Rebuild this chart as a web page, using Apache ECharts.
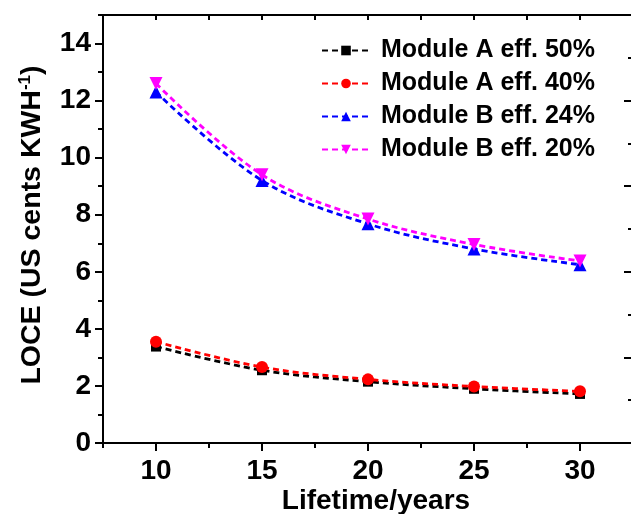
<!DOCTYPE html>
<html>
<head>
<meta charset="utf-8">
<script src="https://cdn.jsdelivr.net/npm/echarts@6/dist/echarts.min.js"></script>
<style>html,body{margin:0;padding:0;background:#fff;}#c{width:631px;height:514px;}</style>
</head>
<body>
<div id="c"></div>
<script>
var years = [10, 15, 20, 25, 30];
var moduleA50 = [3.38, 2.55, 2.15, 1.90, 1.72];
var moduleA40 = [3.55, 2.66, 2.23, 1.98, 1.81];
var moduleB24 = [12.30, 9.20, 7.68, 6.80, 6.25];
var moduleB20 = [12.60, 9.40, 7.85, 6.96, 6.38];
var seriesNames = ['Module A eff. 50%', 'Module A eff. 40%', 'Module B eff. 24%', 'Module B eff. 20%'];
var xTickLabels = [10, 15, 20, 25, 30];
var xMinorTicks = [7.5, 12.5, 17.5, 22.5, 27.5];
var yTickLabels = [0, 2, 4, 6, 8, 10, 12, 14];
var yMinorTicks = [1, 3, 5, 7, 9, 11, 13, 15];

var FONT = 'Arial, "Liberation Sans", sans-serif';
function pairs(v){ return years.map(function(x,i){ return [x, v[i]]; }); }

var chart = echarts.init(document.getElementById('c'), null, {renderer:'canvas'});
var axisLineStyle = {color:'#000', width:2};
function mkSeries(name, data, color, symbol, size, rotate){
  return {
    name: name, type: 'line', data: pairs(data), smooth: 0.35,
    symbol: symbol, symbolSize: size, symbolRotate: rotate || 0,
    itemStyle: {color: color},
    lineStyle: {color: color, width: 2.8, type: [6, 4]},
    xAxisIndex: 0, yAxisIndex: 0, z: 5
  };
}
chart.setOption({
  animation: false,
  backgroundColor: '#fff',
  grid: {left: 103, right: -2, top: 15, bottom: 71, containLabel: false, outerBoundsMode: 'none'},
  legend: {
    orient: 'vertical', left: 316, top: 33, itemGap: 8,
    itemWidth: 48, itemHeight: 12,
    data: seriesNames,
    textStyle: {fontFamily: FONT, fontWeight: 'bold', fontSize: 25, color: '#000', padding: [0,0,0,6]}
  },
  xAxis: [
    {type:'value', position:'bottom', min:7.5, max:32.5, interval:2.5,
     axisLine:{show:true, onZero:false, lineStyle:axisLineStyle},
     axisTick:{show:true, inside:false, length:8, lineStyle:{width:2, color:'#000'}, customValues: xTickLabels},
     axisLabel:{show:true, customValues: xTickLabels, margin:14, fontFamily:FONT, fontWeight:'bold', fontSize:28, color:'#000'},
     splitLine:{show:false},
     name:'Lifetime/years', nameLocation:'middle', nameGap:44, nameMoveOverlap:false,
     nameTextStyle:{fontFamily:FONT, fontWeight:'bold', fontSize:28, color:'#000', padding:[0,0,0,16]}},
    {type:'value', position:'bottom', min:7.5, max:32.5, interval:2.5,
     axisLine:{show:false, onZero:false},
     axisTick:{show:true, inside:false, length:5, lineStyle:{width:2, color:'#000'}, customValues: xMinorTicks},
     axisLabel:{show:false}, splitLine:{show:false}},
    {type:'value', position:'top', min:7.5, max:32.5, interval:2.5,
     axisLine:{show:true, onZero:false, lineStyle:axisLineStyle},
     axisTick:{show:true, inside:true, length:5, lineStyle:{width:2, color:'#000'}},
     axisLabel:{show:false}, splitLine:{show:false}}
  ],
  yAxis: [
    {type:'value', position:'left', min:0, max:15, interval:1,
     axisLine:{show:true, onZero:false, lineStyle:axisLineStyle},
     axisTick:{show:true, inside:false, length:8, lineStyle:{width:2, color:'#000'}, customValues: yTickLabels},
     axisLabel:{show:true, customValues: yTickLabels, margin:12, fontFamily:FONT, fontWeight:'bold', fontSize:28, color:'#000'},
     splitLine:{show:false},
     name:'LOCE (US cents KWH{sup|-1})', nameLocation:'middle', nameGap:56, nameRotate:90, nameMoveOverlap:false,
     nameTextStyle:{fontFamily:FONT, fontWeight:'bold', fontSize:28.5, color:'#000', padding:[0,0,0,8],
       rich:{sup:{fontFamily:FONT, fontWeight:'bold', fontSize:17, color:'#000', verticalAlign:'top', padding:[0,0,13,0]}}}},
    {type:'value', position:'left', min:0, max:15, interval:1,
     axisLine:{show:false, onZero:false},
     axisTick:{show:true, inside:false, length:5, lineStyle:{width:2, color:'#000'}, customValues: yMinorTicks},
     axisLabel:{show:false}, splitLine:{show:false}},
    {type:'value', position:'right', min:0, max:5, interval:1,
     axisLine:{show:false, onZero:false},
     axisTick:{show:true, inside:true, length:9, lineStyle:{width:2, color:'#000'}},
     minorTick:{show:true, splitNumber:2, length:5, lineStyle:{width:2, color:'#000'}},
     axisLabel:{show:false}, splitLine:{show:false}}
  ],
  series: [
    mkSeries(seriesNames[0], moduleA50, '#000000', 'rect', 10),
    mkSeries(seriesNames[1], moduleA40, '#ff0000', 'circle', 12),
    mkSeries(seriesNames[2], moduleB24, '#0000ff', 'triangle', 13),
    mkSeries(seriesNames[3], moduleB20, '#ff00ff', 'triangle', 13, 180)
  ]
});
</script>
</body>
</html>
